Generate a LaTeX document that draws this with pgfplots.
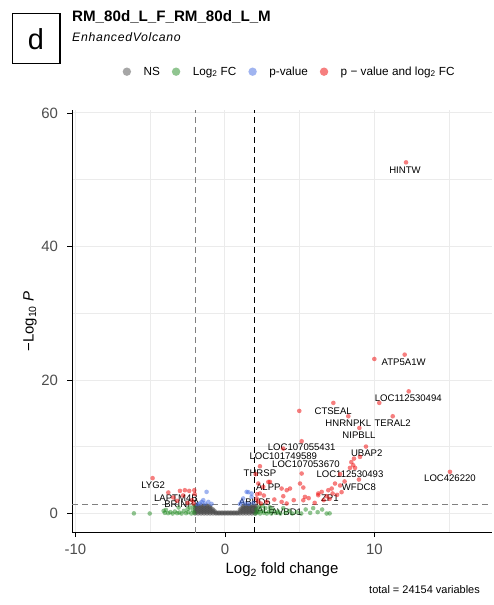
\documentclass[border=0pt]{standalone}
\usepackage{fontspec}
\setmainfont{Liberation Sans}
\newfontfamily\subfont[LetterSpace=5.5]{Liberation Sans}
\usepackage{pgfplots}
\pgfplotsset{compat=1.18}

\definecolor{nscol}{HTML}{4D4D4D}
\definecolor{fccol}{HTML}{228B22}
\definecolor{pvcol}{HTML}{4169E1}
\definecolor{bothcol}{HTML}{EE0000}
\definecolor{gridcol}{HTML}{EBEBEB}
\definecolor{tickcol}{HTML}{4D4D4D}

\newcommand\labfont{\fontsize{9.6}{11}\selectfont}

\begin{document}
\begin{tikzpicture}
\useasboundingbox (0,0) rectangle (494bp,605bp);
\begin{axis}[
  at={(72bp,72.3bp)}, anchor=south west,
  width=420bp, height=422.2bp, scale only axis,
  xmin=-10.23, xmax=17.86, ymin=-2.875, ymax=60.375,
  axis x line*=bottom, axis y line*=left,
  axis line style={black, line width=0.9bp},
  xtick={-10,0,10}, ytick={0,20,40,60},
  minor xtick={-5,5,15}, minor ytick={10,30,50},
  grid=both,
  major grid style={gridcol, line width=1bp},
  minor grid style={gridcol, line width=0.6bp},
  tick align=outside, major tick length=4.5bp, minor tick length=0pt,
  tick style={black, line width=0.9bp},
  ticklabel style={font=\fontsize{15}{18}\selectfont, text=tickcol},
  xticklabel style={yshift=-3bp},
  yticklabel style={xshift=-6bp},
  /pgf/number format/assume math mode=true,
  xlabel={Log\textsubscript{2} fold change},
  ylabel={−Log\textsubscript{10} \textit{P}},
  label style={font=\fontsize{15}{18}\selectfont},
  xlabel style={at={(axis description cs:0.5,-0.0978)}, anchor=base},
  ylabel style={at={(axis description cs:-0.0998,0.5)}, anchor=center},
  legend columns=4,
  legend cell align=left,
  legend image code/.code={\draw[#1, mark size=4.2bp] plot coordinates {(0bp,0bp)};},
  legend style={at={(axis description cs:0.1202,1.0919)}, anchor=west,
    draw=none, fill=none, inner sep=0pt,
    font=\fontsize{11.8}{14}\selectfont,
    /tikz/every odd column/.append style={column sep=10.5bp},
    /tikz/every even column/.append style={column sep=10bp}},
  every axis plot/.append style={only marks, mark=*, mark size=2.3bp},
]

% not significant: the dense mass of genes around the origin
\addplot[mark options={draw opacity=0, fill=nscol, fill opacity=0.5}] coordinates {
(-2.0,0) (-2.0,0.3) (-2.0,0.6) (-2.0,0.9) (-2.0,1.2)
(-1.8,0) (-1.8,0.3) (-1.8,0.6) (-1.8,0.9) (-1.8,1.2)
(-1.6,0) (-1.6,0.3) (-1.6,0.6) (-1.6,0.9) (-1.6,1.2)
(-1.4,0) (-1.4,0.3) (-1.4,0.6) (-1.4,0.9) (-1.4,1.2)
(-1.2,0) (-1.2,0.3) (-1.2,0.6) (-1.2,0.9) (-1.2,1.2)
(-1.0,0) (-1.0,0.3) (-1.0,0.6) (-1.0,0.9) (-1.0,1.1)
(-0.8,0) (-0.8,0.3) (-0.8,0.6)
(-1.9,0.15) (-1.9,0.45) (-1.9,0.75) (-1.9,1.05)
(-1.7,0.15) (-1.7,0.45) (-1.7,0.75) (-1.7,1.05)
(-1.5,0.15) (-1.5,0.45) (-1.5,0.75) (-1.5,1.05)
(-1.3,0.15) (-1.3,0.45) (-1.3,0.75) (-1.3,1.05)
(-1.1,0.15) (-1.1,0.45) (-1.1,0.75) (-1.1,1.05)
(-0.9,0.15) (-0.9,0.45) (-0.9,0.75) (-0.7,0.15) (-0.7,0.4)
(-0.6,0) (-0.6,0.15) (-0.4,0) (-0.4,0.15) (-0.2,0) (-0.2,0.15)
(0,0) (0,0.15) (0.2,0) (0.2,0.15) (0.4,0) (0.4,0.15)
(0.6,0) (0.6,0.15) (0.8,0) (0.8,0.15)
(-0.5,0.08) (-0.3,0.08) (-0.1,0.08) (0.1,0.08) (0.3,0.08) (0.5,0.08) (0.7,0.08) (0.9,0.08)
(1.0,0) (1.0,0.3) (1.0,0.6) (1.1,0.15) (1.1,0.45) (1.1,0.75)
(1.2,0) (1.2,0.3) (1.2,0.6) (1.2,0.9) (1.2,1.1)
(1.4,0) (1.4,0.3) (1.4,0.6) (1.4,0.9) (1.4,1.2)
(1.6,0) (1.6,0.3) (1.6,0.6) (1.6,0.9) (1.6,1.2)
(1.8,0) (1.8,0.3) (1.8,0.6) (1.8,0.9) (1.8,1.2)
(2.0,0) (2.0,0.3) (2.0,0.6) (2.0,0.9) (2.0,1.2)
(1.3,0.15) (1.3,0.45) (1.3,0.75) (1.3,1.05)
(1.5,0.15) (1.5,0.45) (1.5,0.75) (1.5,1.05)
(1.7,0.15) (1.7,0.45) (1.7,0.75) (1.7,1.05)
(1.9,0.15) (1.9,0.45) (1.9,0.75) (1.9,1.05)
(2.1,0.15) (2.1,0.45) (2.1,0.75) (2.1,1.05)
};
\addlegendentry{NS}

% fold change only
\addplot[mark options={draw opacity=0, fill=fccol, fill opacity=0.5}] coordinates {
(-6.09,0.02) (-5.03,0.0) (-4.02,0.1) (-3.95,0.55) (-3.8,0.05) (-3.65,0.2)
(-3.5,0.0) (-3.35,0.3) (-3.2,0.05) (-3.05,0.15) (-2.9,0.0) (-2.75,0.4)
(-2.6,0.05) (-2.45,0.2) (-2.35,0.9) (-2.25,0.0) (-2.15,0.5) (-2.05,0.1)
(-2.1,1.1) (-2.5,0.7) (-3.1,0.9) (-4.1,0.4)
(2.05,0.0) (2.1,0.6) (2.2,0.2) (2.3,1.0) (2.35,0.0) (2.45,0.4) (2.6,0.1)
(2.7,0.8) (2.8,0.0) (2.95,0.3) (3.1,0.0) (3.2,0.6) (3.4,0.1) (3.55,0.3)
(3.7,0.0) (3.9,0.8) (4.05,0.1) (4.3,0.4) (4.5,0.0) (4.8,0.2) (5.1,0.0)
(5.4,0.6) (5.7,0.1) (5.9,0.8) (6.2,0.2) (6.5,0.6) (6.8,0.0) (7.0,0.02)
(2.5,1.15) (3.0,0.95)
};
\addlegendentry{Log\textsubscript{2} FC}

% p-value only
\addplot[mark options={draw opacity=0, fill=pvcol, fill opacity=0.5}] coordinates {
(-1.23,3.24) (-1.56,1.75) (-1.35,1.5) (-1.11,1.74) (-1.67,1.5) (-1.85,1.4)
(-0.9,1.45) (-1.45,2.0) (1.45,3.24) (1.56,3.2) (1.78,3.0) (1.22,2.25)
(1.11,1.74) (1.35,1.5) (1.6,1.45) (1.9,1.6) (1.78,2.5) (1.0,1.4)
};
\addlegendentry{p-value}

% p-value and fold change
\addplot[mark options={draw opacity=0, fill=bothcol, fill opacity=0.5}] coordinates {
(12.11,52.6) (9.99,23.15) (12.02,23.8) (12.29,18.3) (10.32,16.57)
(7.25,16.57) (4.97,15.37) (8.25,14.57) (11.22,14.57) (8.99,12.82)
(5.13,10.83) (9.43,10.03) (3.9,9.73) (9.03,8.48) (8.63,8.23) (8.58,7.23)
(8.36,6.83) (8.7,6.83) (8.45,7.7) (2.34,7.08) (15.05,6.24) (7.7,5.9)
(7.36,4.49) (8.96,5.09) (5.24,3.89) (4.35,3.74) (4.13,3.49) (2.23,4.49)
(2.34,3.0) (3.01,4.73) (3.9,2.59) (5.35,2.49) (6.24,2.74) (6.47,3.24)
(6.91,3.49) (7.14,3.74) (2.56,3.99) (2.9,4.73) (3.79,3.74) (5.02,4.49)
(5.13,5.99) (5.24,1.99) (6.24,3.0) (2.12,2.25) (2.79,1.74) (3.79,1.74)
(4.13,1.5) (6.6,2.0) (7.0,2.2) (7.5,2.8) (7.8,3.2) (6.0,1.6) (5.6,2.3)
(4.6,2.0) (2.4,1.5) (2.2,1.8) (2.6,2.7) (3.3,2.1) (7.7,4.2) (8.0,4.8)
(6.8,2.6) (7.2,3.0) (2.05,5.9) (2.15,2.9)
(-4.84,5.3) (-3.79,3.15) (-3.01,3.39) (-2.68,3.49) (-2.39,3.39)
(-2.05,3.49) (-3.46,2.4) (-2.2,2.0) (-2.5,1.6) (-2.1,1.5) (-2.8,2.7)
(-3.2,1.9) (-2.03,2.9)
};
\addlegendentry{p − value and log\textsubscript{2} FC}

% cut-off lines
\addplot[forget plot, no marks, sharp plot, gray, line width=0.8bp, dash pattern=on 6bp off 4bp]
  coordinates {(-2,-2.875) (-2,60.375)};
\addplot[forget plot, no marks, sharp plot, black, line width=0.8bp, dash pattern=on 6bp off 4bp]
  coordinates {(2,-2.875) (2,60.375)};
\addplot[forget plot, no marks, sharp plot, gray, line width=0.8bp, dash pattern=on 6bp off 4bp]
  coordinates {(-10.23,1.301) (17.86,1.301)};

% gene labels
\begin{scope}[every node/.style={font=\labfont, inner sep=0pt}]
\node at (axis cs:12.04,51.5) {HINTW};
\node at (axis cs:11.95,22.7) {ATP5A1W};
\node at (axis cs:12.26,17.2) {LOC112530494};
\node at (axis cs:7.24,15.4) {CTSEAL};
\node at (axis cs:8.25,13.5) {HNRNPKL};
\node at (axis cs:11.22,13.5) {TERAL2};
\node at (axis cs:8.96,11.7) {NIPBLL};
\node at (axis cs:9.48,9.0) {UBAP2};
\node at (axis cs:5.13,9.9) {LOC107055431};
\node at (axis cs:3.9,8.6) {LOC101749589};
\node at (axis cs:5.42,7.35) {LOC107053670};
\node at (axis cs:2.34,6.1) {THRSP};
\node at (axis cs:8.36,5.85) {LOC112530493};
\node at (axis cs:15.05,5.25) {LOC426220};
\node at (axis cs:8.96,4.0) {WFDC8};
\node at (axis cs:2.9,4.0) {ALPP};
\node at (axis cs:7.02,2.25) {ZP1};
\node at (axis cs:-4.8,4.25) {LYG2};
\node at (axis cs:-3.28,2.3) {LAPTM4B};
\node at (axis cs:-2.9,1.35) {BRINP3};
\node at (axis cs:2.0,1.74) {ABHD5};
\node at (axis cs:2.5,0.5) {GALE};
\node at (axis cs:4.13,0.24) {AVBD1};
\end{scope}
\end{axis}

% panel tag, titles and caption
\draw[line width=1.3bp] (12.7bp,541.7bp) rectangle (60bp,591.7bp);
\node[anchor=base, inner sep=0pt, font=\fontsize{29}{30}\selectfont] at (36bp,555bp) {d};
\node[anchor=base west, inner sep=0pt, font=\bfseries\fontsize{15.2}{18}\selectfont]
  at (72bp,583.3bp) {RM\_80d\_L\_F\_RM\_80d\_L\_M};
\node[anchor=base west, inner sep=0pt, font=\subfont\itshape\fontsize{12.3}{15}\selectfont]
  at (72bp,563.3bp) {EnhancedVolcano};
\node[anchor=base east, inner sep=0pt, font=\fontsize{11}{13}\selectfont]
  at (480bp,12bp) {total = 24154 variables};
\end{tikzpicture}
\end{document}
